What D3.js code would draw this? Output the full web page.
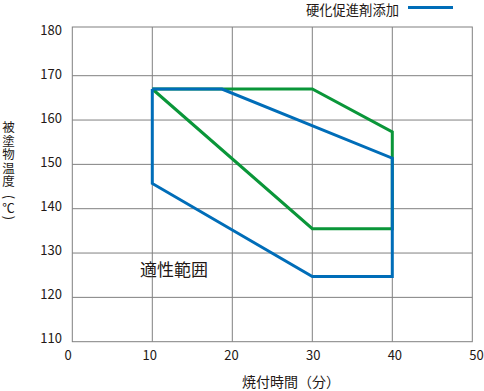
<!DOCTYPE html>
<html><head><meta charset="utf-8">
<script src="https://cdn.jsdelivr.net/npm/d3@7/dist/d3.min.js"></script>
<style>
body{margin:0;background:#fff;}
text{font-family:"Noto Sans CJK JP","Noto Sans",sans-serif;fill:#231815;}
</style></head>
<body><svg id="c" width="484" height="391"></svg>
<script>
const xTicks = [0,10,20,30,40,50];
const yTicks = [110,120,130,140,150,160,170,180];
const greenSeries = [[10,167],[30,167],[40,157.3],[40,135.5],[30,135.5],[10,167]];
const blueSeries = [[10,167],[18.7,167],[40,151.4],[40,124.7],[30,124.7],[10,145.7],[10,167]];
const legendLabel = "硬化促進剤添加";
const regionLabel = "適性範囲";
const xTitle = "焼付時間（分）";
const yTitle = "被塗物温度（℃）";

const svg = d3.select("#c");
const x = d3.scaleLinear().domain([0,50]).range([72.3,472.3]);
const y = d3.scaleLinear().domain([110,170]).range([341.7,75.7]);
const yLab = d3.scaleLinear().domain([110,180]).range([338.3,30]);
const yTop = 27;

const grid = svg.append("g").attr("stroke","#808080").attr("stroke-width",1).attr("fill","none");
grid.append("rect").attr("x",x(0)).attr("y",yTop).attr("width",x(50)-x(0)).attr("height",y(110)-yTop);
xTicks.slice(1,-1).forEach(v=>{
  grid.append("line").attr("x1",x(v)).attr("x2",x(v)).attr("y1",yTop).attr("y2",y(110));
});
yTicks.filter(v=>v>110&&v<180).forEach(v=>{
  grid.append("line").attr("x1",x(0)).attr("x2",x(50)).attr("y1",y(v)).attr("y2",y(v));
});

svg.append("g").selectAll("text").data(yTicks).join("text")
  .attr("x",62).attr("y",d=>yLab(d)+4.7).attr("text-anchor","end")
  .attr("font-size",13).text(d=>d);
svg.append("g").selectAll("text").data(xTicks).join("text")
  .attr("x",d=>x(d)+(d-25)*0.17).attr("y",359.5).attr("text-anchor","middle")
  .attr("font-size",13).text(d=>d);

const line = d3.line().x(d=>x(d[0])).y(d=>y(d[1]));
svg.append("path").attr("d",line(greenSeries)).attr("fill","none")
  .attr("stroke","#0a9639").attr("stroke-width",3).attr("stroke-linejoin","miter");
svg.append("path").attr("d",line(blueSeries)).attr("fill","none")
  .attr("stroke","#006db8").attr("stroke-width",3).attr("stroke-linejoin","miter");

svg.append("text").attr("x",140).attr("y",276).attr("font-size",17).text(regionLabel);

// legend
svg.append("text").attr("x",399).attr("y",14.5).attr("text-anchor","end").attr("font-size",13.3).text(legendLabel);
svg.append("line").attr("x1",408).attr("x2",453).attr("y1",7.5).attr("y2",7.5)
  .attr("stroke","#006db8").attr("stroke-width",3);

// axis titles
svg.append("text").attr("x",242).attr("y",387).attr("font-size",14).text(xTitle);

const yChars = Array.from(yTitle);
const yCenter = [127,140.5,154,167.5,181,197,207.5,218];
const yt = svg.append("g");
yChars.forEach((ch,i)=>{
  const isParen = ch==="（"||ch==="）";
  if(isParen){
    yt.append("text").attr("text-anchor","middle").attr("font-size",13)
      .attr("transform",`translate(8.5,${yCenter[i]}) rotate(90)`)
      .attr("y",4.5).text(ch==="（"?"(":")");
  } else {
    yt.append("text").attr("text-anchor","middle").attr("font-size",12.5)
      .attr("x",8.5).attr("y",yCenter[i]+5).text(ch);
  }
});
</script></body></html>
